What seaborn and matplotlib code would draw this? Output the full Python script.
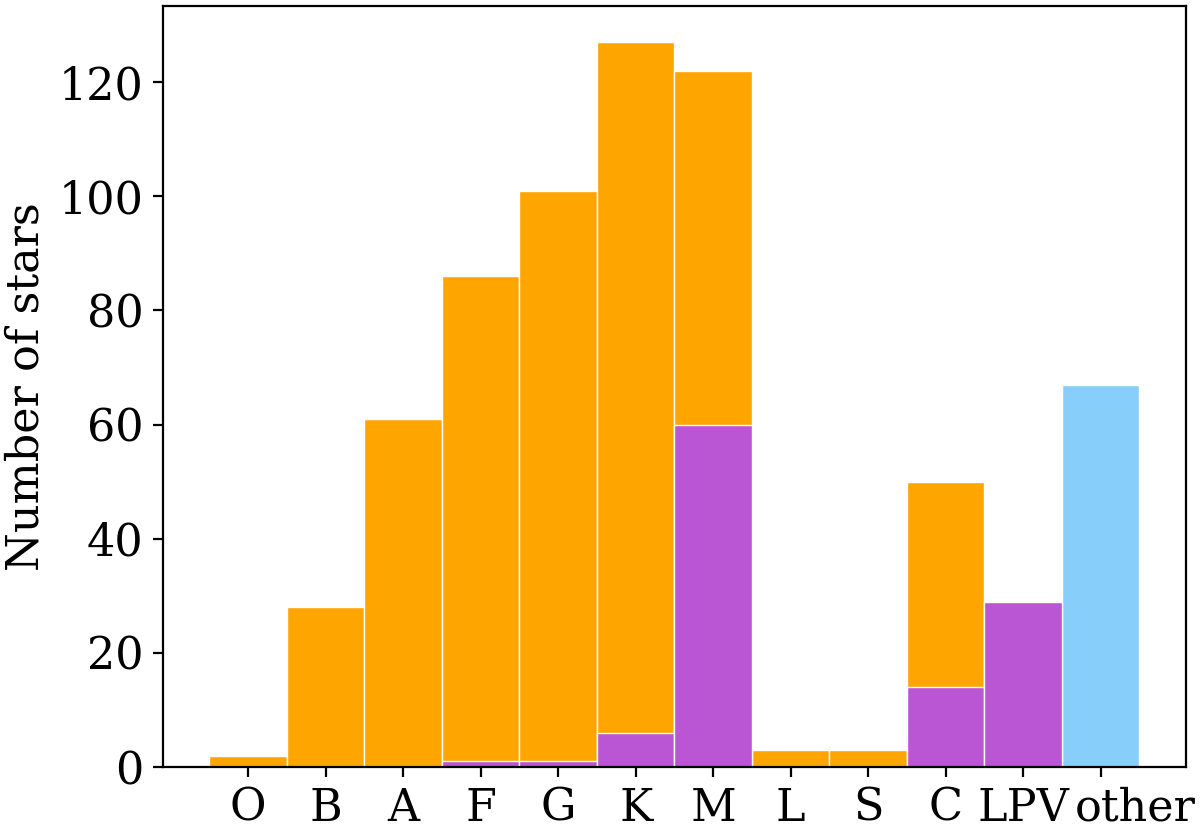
import matplotlib
matplotlib.use("Agg")
import matplotlib.pyplot as plt
import matplotlib.transforms as mtransforms
import seaborn as sns
import pandas as pd

# spectral classes and counts
classes = ['O', 'B', 'A', 'F', 'G', 'K', 'M', 'L', 'S', 'C', 'LPV', 'other']
total_stars = [2, 28, 61, 86, 101, 127, 122, 3, 3, 50, 29, 67]
purple_stars = [0, 0, 0, 1, 1, 6, 60, 0, 0, 14, 29, 0]

bar_colors = ['orange'] * 11 + ['lightskyblue']

plt.rcParams['font.family'] = ['DejaVu Serif']
plt.rcParams['font.size'] = 16

df = pd.DataFrame({'cls': classes, 'total': total_stars, 'purple': purple_stars})

fig = plt.figure(figsize=(6, 4.13), dpi=200)
ax = fig.add_axes([0.1358, 0.0714, 0.8525, 0.9213])

sns.barplot(data=df, x='cls', y='total', hue='cls', palette=bar_colors,
            legend=False, width=1, saturation=1, edgecolor='white',
            linewidth=0.5, ax=ax)
sns.barplot(data=df, x='cls', y='purple', color='mediumorchid',
            width=1, saturation=1, edgecolor='white', linewidth=0.5, ax=ax)

ax.set_xlim(-1.1, 12.1)
ax.set_ylim(0, max(total_stars) * 1.05)
ax.set_xlabel('')
ax.set_ylabel('Number of stars')
ax.tick_params(labelsize=16)

# the last label sits a bit to the right of its tick
last = ax.get_xticklabels()[-1]
last.set_transform(last.get_transform() +
                   mtransforms.ScaledTranslation(0.17, 0, fig.dpi_scale_trans))

fig.savefig('out.png', dpi=200)
